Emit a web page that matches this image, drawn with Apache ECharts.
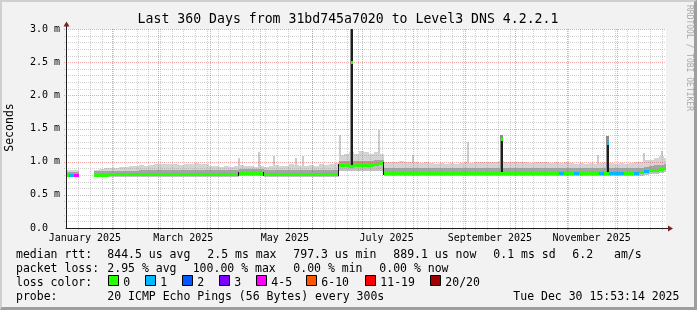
<!DOCTYPE html>
<html><head><meta charset="utf-8">
<script src="https://cdn.jsdelivr.net/npm/echarts@6/dist/echarts.min.js"></script>
<style>
html,body{margin:0;padding:0;background:#f2f2f2;}
#wrap{position:relative;width:697px;height:310px;}
#chart{position:absolute;left:0;top:0;width:697px;height:310px;}
#frame{position:absolute;left:0;top:0;width:697px;height:310px;box-sizing:border-box;border-style:solid;border-width:2px 3px 3px 2px;border-color:#cfcfcf #9e9e9e #9e9e9e #cfcfcf;pointer-events:none;}
</style></head><body>
<div id="wrap"><div id="chart"></div><div id="frame"></div></div>
<script>
// ---------- data (ms), one sample every DAY_STEP days from start (Jan 4 2025 15:53) ----------
const DAY_STEP = 3;
const median = [
  0.805,0.805,0.805,null,null,null,0.800,0.800,0.800,0.807,
  0.807,0.807,0.807,0.807,0.807,0.807,0.807,0.807,0.807,0.807,
  0.807,0.807,0.807,0.807,0.807,0.807,0.807,0.807,0.807,0.807,
  0.807,0.807,0.807,0.807,0.807,0.835,0.835,0.835,0.835,0.835,
  0.808,0.808,0.808,0.808,0.808,0.808,0.808,0.808,0.808,0.808,
  0.808,0.808,0.808,0.808,0.808,0.945,0.945,0.940,0.945,0.945,
  0.945,0.950,0.960,0.975,0.835,0.835,0.835,0.835,0.835,0.835,
  0.830,0.830,0.830,0.830,0.830,0.835,0.835,0.830,0.830,0.830,
  0.830,0.830,0.830,0.835,0.835,0.835,0.835,0.835,0.835,0.835,
  0.835,0.835,0.835,0.835,0.835,0.835,0.835,0.835,0.835,0.835,
  0.835,0.835,0.835,0.835,0.835,0.835,0.835,0.835,0.835,0.835,
  0.835,0.835,0.835,0.835,0.835,0.840,0.855,0.870,0.875,0.885,
  0.900
];
const lossCount = [
  0,1,4,0,0,0,0,0,0,0,
  0,0,0,0,0,0,0,0,0,0,
  0,0,0,0,0,0,0,0,0,0,
  0,0,0,0,0,0,0,0,0,0,
  0,0,0,0,0,0,0,0,0,0,
  0,0,0,0,0,0,0,0,0,0,
  0,0,0,0,0,0,0,0,0,0,
  0,0,0,0,0,0,0,0,0,0,
  0,0,0,0,0,0,0,0,0,0,
  0,0,0,0,0,0,0,0,0,1,
  0,0,1,0,0,0,0,1,0,1,
  1,1,0,0,1,0,1,0,0,0,
  0
];
const smokeLow = [
  0.770,0.770,0.770,null,null,null,0.765,0.765,0.765,0.765,
  0.765,0.765,0.765,0.765,0.765,0.765,0.765,0.765,0.765,0.765,
  0.765,0.765,0.765,0.765,0.765,0.765,0.765,0.765,0.765,0.765,
  0.765,0.765,0.765,0.765,0.765,0.785,0.785,0.785,0.785,0.785,
  0.765,0.765,0.765,0.765,0.765,0.765,0.765,0.765,0.765,0.765,
  0.765,0.765,0.765,0.765,0.765,0.860,0.860,0.860,0.860,0.860,
  0.860,0.860,0.860,0.860,0.785,0.785,0.785,0.785,0.785,0.785,
  0.785,0.785,0.785,0.785,0.785,0.785,0.785,0.785,0.785,0.785,
  0.785,0.785,0.785,0.785,0.785,0.785,0.785,0.785,0.785,0.785,
  0.785,0.785,0.785,0.785,0.785,0.785,0.785,0.785,0.785,0.785,
  0.785,0.785,0.785,0.785,0.785,0.785,0.785,0.785,0.785,0.785,
  0.785,0.785,0.785,0.785,0.785,0.785,0.800,0.810,0.820,0.830,
  0.840
];
const smokeMid = [
  0.850,0.850,0.850,null,null,null,0.855,0.855,0.855,0.855,
  0.855,0.855,0.855,0.855,0.855,0.870,0.870,0.870,0.870,0.870,
  0.870,0.870,0.870,0.870,0.870,0.870,0.870,0.870,0.870,0.870,
  0.870,0.870,0.870,0.870,0.870,0.885,0.885,0.885,0.885,0.885,
  0.870,0.870,0.870,0.870,0.870,0.870,0.870,0.870,0.870,0.870,
  0.870,0.870,0.870,0.870,0.870,1.010,1.010,1.010,1.010,1.010,
  1.010,1.010,1.020,1.030,0.905,0.905,0.905,0.905,0.905,0.905,
  0.905,0.905,0.905,0.905,0.905,0.905,0.905,0.905,0.905,0.905,
  0.905,0.905,0.905,0.905,0.905,0.905,0.905,0.905,0.905,0.905,
  0.905,0.905,0.905,0.905,0.905,0.905,0.905,0.905,0.905,0.905,
  0.905,0.905,0.905,0.905,0.905,0.905,0.905,0.905,0.905,0.905,
  0.905,0.905,0.905,0.905,0.905,0.910,0.920,0.935,0.945,0.955,
  0.965
];
const smokeHigh = [
  0.87,0.88,0.87,null,null,null,0.88,0.89,0.90,0.90,
  0.91,0.92,0.92,0.93,0.93,0.95,0.94,0.95,0.96,0.97,
  0.96,0.97,0.96,0.95,0.96,0.97,0.98,0.97,0.96,0.94,
  0.93,0.92,0.93,0.92,0.93,0.95,0.94,0.93,0.92,0.93,
  0.92,0.94,0.95,0.93,0.94,0.96,0.95,0.93,0.94,0.95,
  0.94,0.96,0.95,0.96,0.98,1.10,1.12,1.15,1.12,1.16,
  1.14,1.12,1.15,1.12,1.00,0.99,1.00,1.01,1.00,0.99,
  1.00,0.98,0.99,0.98,0.97,0.98,0.97,0.98,0.97,0.98,
  0.99,0.98,0.99,1.00,0.99,1.00,0.99,1.01,1.00,0.99,
  1.00,0.99,1.00,0.98,0.99,1.00,0.99,0.98,0.99,0.98,
  0.99,0.98,0.97,0.98,0.97,0.98,0.97,0.98,0.99,0.98,
  0.97,0.98,0.97,0.98,0.99,1.00,1.02,1.03,1.05,1.08,
  1.06
];
// isolated high-latency events (day offset from start)
const spikeDays    = [171.4, 261.6, 325.2];
const spikeBase    = [0.945, 0.835, 0.835];
const spikeMedian  = [2.51, 1.34, 1.28];
const spikeDarkTop = [3.00, 1.34, 1.28];
const spikeTop     = [3.00, 1.40, 1.38];
const spikeLoss    = [0, 0, 1];
// thin smoke outliers
const thinSpikeDays = [103.8,116.0,125.0,138.0,142.2,164.4,187.8,208.2,241.4,319.2,346.8,357.4];
const thinSpikeTops = [1.05,1.15,1.085,1.055,1.085,1.40,1.48,1.10,1.30,1.10,1.125,1.165];

// ---------- axes ----------
const monthStartDays = [27.34,55.34,86.34,116.34,147.34,177.34,208.34,239.34,269.34,300.34,330.34];
const monthLabelDays = [11.34,70.34,131.34,192.34,254.34,315.34];
const monthLabels = ['January 2025','March 2025','May 2025','July 2025','September 2025','November 2025'];
const firstSunday = 7.34;
const yTickValues = [0,0.5,1.0,1.5,2.0,2.5,3.0];
const yTickLabels = ['0.0  ','0.5 m','1.0 m','1.5 m','2.0 m','2.5 m','3.0 m'];
const yMajorGrid = [0.5,1.0,1.5,2.0,2.5,3.0];
const yMinorGrid = [0.1,0.2,0.3,0.4,0.6,0.7,0.8,0.9,1.1,1.2,1.3,1.4,1.6,1.7,1.8,1.9,2.1,2.2,2.3,2.4,2.6,2.7,2.8,2.9];

const lossLegend = [['0','#26ff00'],['1','#00b8ff'],['2','#0059ff'],['3','#7e00ff'],['4-5','#ff00fc'],['6-10','#ff5500'],['11-19','#ff0000'],['20/20','#a10000']];
function lossColor(n){
  if(n<=0) return '#26ff00'; if(n===1) return '#00b8ff'; if(n===2) return '#0059ff'; if(n===3) return '#7e00ff';
  if(n<=5) return '#ff00fc'; if(n<=10) return '#ff5500'; if(n<=19) return '#ff0000'; return '#a10000';
}

const FONT = 'DejaVu Sans Mono';
const weekDays = []; for(let d=firstSunday; d<=360; d+=7) weekDays.push(d);

const gridData = [];
weekDays.forEach(d=>gridData.push([d,0]));
yMinorGrid.forEach(v=>gridData.push([v,1]));
monthStartDays.forEach(d=>gridData.push([d,2]));
yMajorGrid.forEach(v=>gridData.push([v,3]));

const smokeData = [], medianData = [];
let prev = null;
median.forEach((m,i)=>{
  if(m==null){ prev=null; return; }
  const d=i*DAY_STEP;
  smokeData.push([d, smokeLow[i], m, smokeMid[i], smokeHigh[i]]);
  medianData.push([d, m, prev==null?-1:prev, lossCount[i]]);
  prev=m;
});
const spikeData = spikeDays.map((d,i)=>[d, spikeBase[i], spikeMedian[i], spikeDarkTop[i], spikeTop[i], spikeLoss[i]]);
const thinData = thinSpikeDays.map((d,i)=>[d, thinSpikeTops[i]]);

function X(api,d){ return Math.round(api.coord([d,0])[0]); }
function Y(api,v){ return Math.round(api.coord([0,v])[1]); }

function gridItem(params, api){
  const pos=api.value(0), kind=api.value(1), cs=params.coordSys;
  let shape;
  if(kind===0||kind===2){ const x=X(api,pos)+0.5; shape={x1:x,y1:cs.y,x2:x,y2:cs.y+cs.height+2}; }
  else { const y=Y(api,pos)+0.5; shape={x1:cs.x-2,y1:y,x2:cs.x+cs.width,y2:y}; }
  const major=kind>=2;
  return {type:'line', shape, style:{stroke: major?'rgba(222,79,79,0.5)':'rgba(143,143,143,0.42)', lineWidth:1, lineDash:[1,1]}};
}
function smokeItem(params, api){
  const d=api.value(0);
  const xa=X(api,d-DAY_STEP/2), xb=X(api,d+DAY_STEP/2);
  const yLo=Y(api,api.value(1)), yMed=Y(api,api.value(2)), yMid=Y(api,api.value(3)), yHi=Y(api,api.value(4));
  return {type:'group', children:[
    {type:'rect', shape:{x:xa,y:yHi,width:xb-xa,height:yMid-yHi}, style:{fill:'#d4d4d4'}},
    {type:'rect', shape:{x:xa,y:yMid,width:xb-xa,height:yMed-yMid}, style:{fill:'#a4a4a4'}},
    {type:'rect', shape:{x:xa,y:yMed,width:xb-xa,height:yLo-yMed}, style:{fill:'#c0c0c0'}}
  ]};
}
function thinItem(params, api){
  const x=X(api,api.value(0)), yTop=Y(api,api.value(1)), yB=Y(api,0.9);
  return {type:'rect', shape:{x:x-1,y:yTop,width:2,height:yB-yTop}, style:{fill:'#cbcbcb'}};
}
function spikeItem(params, api){
  const x=X(api,api.value(0));
  const yB=Y(api,api.value(1)), yM=Y(api,api.value(2)), yD=Y(api,api.value(3)), yT=Y(api,api.value(4));
  return {type:'group', children:[
    {type:'rect', shape:{x:x-2,y:yT,width:3,height:yB-yT}, style:{fill:'#8c8c8c'}},
    {type:'rect', shape:{x:x-1,y:yD,width:2,height:yB-yD}, style:{fill:'#1e1e1e'}},
    {type:'rect', shape:{x:x-1,y:yM-1,width:2,height:3}, style:{fill:lossColor(api.value(5))}}
  ]};
}
function medianItem(params, api){
  const d=api.value(0), m=api.value(1), p=api.value(2), loss=api.value(3);
  const xa=X(api,d-DAY_STEP/2), xb=X(api,d+DAY_STEP/2), y=Y(api,m);
  const ch=[{type:'rect', shape:{x:xa,y:y-1,width:xb-xa,height:3}, style:{fill:lossColor(loss)}}];
  if(p>=0 && Math.abs(p-m)>0.02){
    const yp=Y(api,p);
    ch.push({type:'rect', shape:{x:xa-1,y:Math.min(yp,y)-1,width:1,height:Math.abs(yp-y)+3}, style:{fill:'#111'}});
  }
  return {type:'group', children:ch};
}

const graphic = [];
function txt(x,y,s,size,extra){ graphic.push(Object.assign({type:'text', x, y, silent:true, style:{text:s, fontFamily:FONT, fontSize:size, fill:'#000', align:'left', verticalAlign:'middle'}}, extra||{})); }
txt(348,20,'Last 360 Days from 31bd745a7020 to Level3 DNS 4.2.2.1',13.2);
graphic[graphic.length-1].style.align='center';
txt(10,127.5,'Seconds',11.5,{rotation:Math.PI/2});
graphic[graphic.length-1].style.align='center';
graphic.push({type:'text', x:689.5, y:5, rotation:-Math.PI/2, silent:true, style:{text:'RRDTOOL / TOBI OETIKER', fontFamily:FONT, fontSize:8, fill:'#a8a8a8', align:'left', verticalAlign:'middle'}});
const LS=11.5, B=[254.6,268.6,282.6,296.6];
[[16,'median rtt:'],[107.3,'844.5 us avg'],[207.3,'2.5 ms max'],[293.3,'797.3 us min'],[393.3,'889.1 us now'],[493.3,'0.1 ms sd'],[572.3,'6.2'],[614,'am/s']].forEach(a=>txt(a[0],B[0],a[1],LS));
[[16,'packet loss:'],[107.3,'2.95 % avg'],[192.7,'100.00 % max'],[293.3,'0.00 % min'],[379.3,'0.00 % now']].forEach(a=>txt(a[0],B[1],a[1],LS));
txt(16,B[2],'loss color:',LS);
const boxX=[108,145,182,219,256,306,365,430];
lossLegend.forEach((l,i)=>{
  graphic.push({type:'rect', silent:true, shape:{x:boxX[i]+0.5,y:275.5,width:10,height:10}, style:{fill:l[1], stroke:'#000', lineWidth:1}});
  txt(boxX[i]+15.3,B[2],l[0],LS);
});
[[16,'probe:'],[107.3,'20 ICMP Echo Pings (56 Bytes) every 300s'],[513.3,'Tue Dec 30 15:53:14 2025']].forEach(a=>txt(a[0],B[3],a[1],LS));
// axis arrows
graphic.push({type:'line', silent:true, shape:{x1:66.5,y1:29,x2:66.5,y2:25}, style:{stroke:'#1f1f1f',lineWidth:1}});
graphic.push({type:'polygon', silent:true, shape:{points:[[63.5,26.5],[66.5,21.5],[69.5,26.5]]}, style:{fill:'#801f1f'}});
graphic.push({type:'line', silent:true, shape:{x1:665,y1:228.5,x2:669,y2:228.5}, style:{stroke:'#1f1f1f',lineWidth:1}});
graphic.push({type:'polygon', silent:true, shape:{points:[[668,225.5],[673,228.5],[668,231.5]]}, style:{fill:'#801f1f'}});

const chart = echarts.init(document.getElementById('chart'), null, {renderer:'canvas'});
chart.setOption({
  animation:false,
  backgroundColor:'#f2f2f2',
  textStyle:{fontFamily:FONT},
  grid:{left:66,top:29,width:600,height:199,show:true,backgroundColor:'#ffffff',borderWidth:0,containLabel:false,outerBoundsMode:'none'},
  xAxis:{type:'value',min:0,max:360,z:10,
    axisLine:{show:true,onZero:false,lineStyle:{color:'#1f1f1f',width:1}},
    axisTick:{show:false},splitLine:{show:false},minorSplitLine:{show:false},
    axisLabel:{customValues:monthLabelDays,fontFamily:FONT,fontSize:10,color:'#000',margin:5,
      formatter:v=>{let bi=0,bd=1e9;monthLabelDays.forEach((d,i)=>{if(Math.abs(d-v)<bd){bd=Math.abs(d-v);bi=i;}});return monthLabels[bi];}}},
  yAxis:{type:'value',min:0,max:3,interval:0.5,z:10,
    axisLine:{show:true,onZero:false,lineStyle:{color:'#1f1f1f',width:1}},
    axisTick:{show:false},splitLine:{show:false},
    axisLabel:{fontFamily:FONT,fontSize:10,color:'#000',margin:6,
      formatter:v=>{const i=yTickValues.findIndex(t=>Math.abs(t-v)<1e-6);return i>=0?yTickLabels[i]:'';}}},
  series:[
    {type:'custom',z:1,clip:true,silent:true,renderItem:thinItem,data:thinData,encode:{x:0,y:1}},
    {type:'custom',z:2,clip:true,silent:true,renderItem:smokeItem,data:smokeData,encode:{x:0,y:[1,2,3,4]}},
    {type:'custom',z:3,clip:false,silent:true,renderItem:gridItem,data:gridData,encode:{x:0,y:1}},
    {type:'custom',z:4,clip:true,silent:true,renderItem:spikeItem,data:spikeData,encode:{x:0,y:[1,2,3,4]}},
    {type:'custom',z:5,clip:true,silent:true,renderItem:medianItem,data:medianData,encode:{x:0,y:1}}
  ],
  graphic:graphic
});
</script>
</body></html>
